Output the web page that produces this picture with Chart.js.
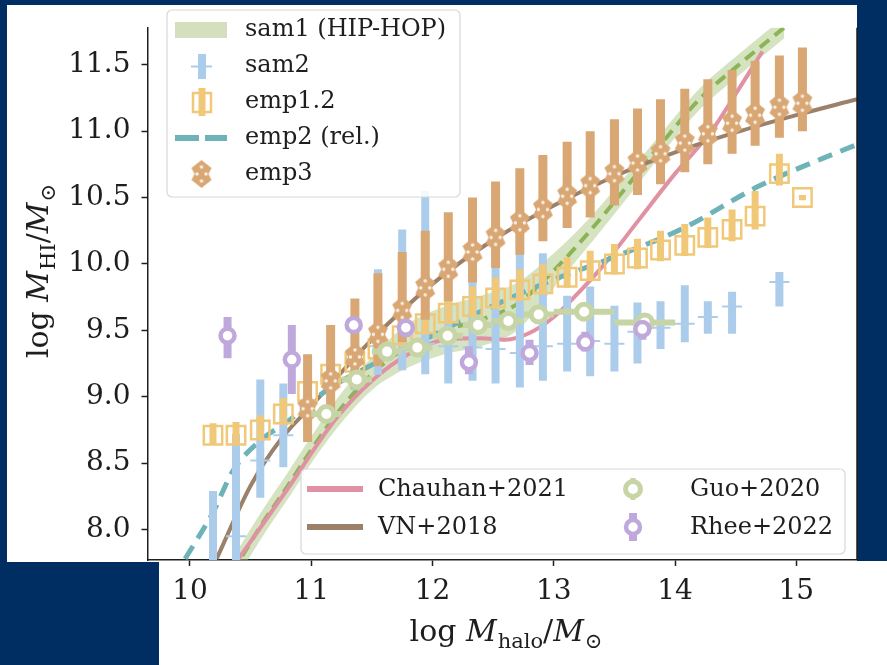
<!DOCTYPE html>
<html>
<head>
<meta charset="utf-8">
<script src="https://cdn.jsdelivr.net/npm/chart.js@4/dist/chart.umd.min.js"></script>
<style>
  html, body { margin: 0; padding: 0; background: #002d62; }
  canvas { display: block; }
</style>
</head>
<body>
<canvas id="chart" width="887" height="665"></canvas>
<script>
// ---- axes ----
const xTickVals = [10, 11, 12, 13, 14, 15];
const yTickVals = [8.0, 8.5, 9.0, 9.5, 10.0, 10.5, 11.0, 11.5];
const xRange = [9.65, 15.5];
const yRange = [7.771, 11.778];

// ---- sam1 (HIP-HOP): median + band ----
const sam1X   = [10.35, 10.6, 10.8, 11.0, 11.2, 11.5, 11.8, 12.1, 12.4, 12.7, 13.0, 13.3, 13.6, 13.9, 14.2, 14.5, 14.9];
const sam1Med = [7.68, 8.05, 8.32, 8.60, 8.86, 9.17, 9.38, 9.50, 9.58, 9.70, 9.95, 10.25, 10.58, 10.92, 11.24, 11.48, 11.78];
const sam1Lo  = [7.58, 7.95, 8.22, 8.50, 8.75, 9.05, 9.22, 9.32, 9.38, 9.50, 9.82, 10.15, 10.49, 10.84, 11.16, 11.40, 11.70];
const sam1Hi  = [7.78, 8.15, 8.42, 8.70, 8.97, 9.30, 9.55, 9.68, 9.76, 9.86, 10.08, 10.35, 10.67, 11.00, 11.32, 11.56, 11.86];

// ---- sam2 ----
const sam2X  = [10.19, 10.38, 10.58, 10.77, 10.97, 11.16, 11.36, 11.55, 11.75, 11.94, 12.13, 12.33, 12.52, 12.72, 12.91, 13.11, 13.30, 13.50, 13.69, 13.88, 14.08, 14.27, 14.47, 14.86];
const sam2Y  = [7.75, 7.95, 8.52, 8.71, 8.95, 9.12, 9.28, 9.38, 9.40, 9.40, 9.38, 9.37, 9.36, 9.33, 9.38, 9.40, 9.42, 9.40, 9.49, 9.52, 9.55, 9.60, 9.68, 9.865];
const sam2Hi = [8.29, 8.72, 9.13, 9.10, 9.25, 9.40, 9.55, 9.96, 10.26, 10.55, 9.80, 9.865, 9.97, 10.08, 10.08, 9.76, 9.83, 9.685, 9.71, 9.72, 9.84, 9.72, 9.79, 9.94];
const sam2Lo = [7.30, 7.40, 8.24, 8.47, 8.70, 8.90, 9.05, 9.165, 9.20, 9.17, 9.10, 9.12, 9.10, 9.07, 9.12, 9.19, 9.155, 9.19, 9.25, 9.36, 9.41, 9.475, 9.475, 9.68];

// ---- emp1.2 ----
const emp12X  = [10.19, 10.38, 10.58, 10.77, 10.97, 11.16, 11.36, 11.55, 11.75, 11.94, 12.13, 12.33, 12.52, 12.72, 12.91, 13.11, 13.30, 13.50, 13.69, 13.88, 14.08, 14.27, 14.47, 14.66, 14.86, 15.05];
const emp12Y  = [8.71, 8.71, 8.75, 8.87, 9.04, 9.17, 9.26, 9.36, 9.46, 9.55, 9.63, 9.68, 9.745, 9.805, 9.85, 9.90, 9.95, 10.00, 10.045, 10.105, 10.14, 10.20, 10.26, 10.36, 10.68, 10.50];
const emp12Hi = [8.80, 8.81, 8.86, 8.99, 9.16, 9.30, 9.40, 9.50, 9.61, 9.70, 9.78, 9.83, 9.90, 9.96, 10.00, 10.05, 10.10, 10.15, 10.19, 10.25, 10.30, 10.35, 10.41, 10.55, 10.83, 10.52];
const emp12Lo = [8.64, 8.64, 8.67, 8.79, 8.96, 9.09, 9.18, 9.28, 9.38, 9.47, 9.55, 9.60, 9.66, 9.72, 9.77, 9.82, 9.87, 9.92, 9.96, 10.02, 10.06, 10.12, 10.17, 10.26, 10.59, 10.48];

// ---- emp2 (rel.) ----
const emp2X = [9.96, 10.19, 10.36, 10.58, 10.80, 11.13, 11.50, 12.00, 12.30, 12.94, 13.52, 14.07, 14.70, 15.50];
const emp2Y = [7.78, 8.13, 8.45, 8.67, 8.81, 9.05, 9.24, 9.46, 9.60, 9.86, 10.06, 10.27, 10.59, 10.90];

// ---- emp3 ----
const emp3X  = [10.97, 11.16, 11.36, 11.55, 11.75, 11.94, 12.13, 12.33, 12.52, 12.72, 12.91, 13.11, 13.30, 13.50, 13.69, 13.88, 14.08, 14.27, 14.47, 14.66, 14.86, 15.05];
const emp3Y  = [8.91, 9.12, 9.30, 9.47, 9.65, 9.82, 9.96, 10.09, 10.20, 10.31, 10.41, 10.51, 10.59, 10.68, 10.76, 10.83, 10.91, 10.98, 11.06, 11.12, 11.18, 11.21];
const emp3Hi = [9.32, 9.54, 9.74, 9.93, 10.09, 10.25, 10.39, 10.50, 10.62, 10.72, 10.82, 10.92, 11.00, 11.09, 11.17, 11.24, 11.32, 11.39, 11.46, 11.53, 11.57, 11.63];
const emp3Lo = [8.66, 8.88, 9.06, 9.23, 9.41, 9.58, 9.72, 9.86, 9.97, 10.07, 10.17, 10.27, 10.35, 10.44, 10.52, 10.60, 10.69, 10.75, 10.83, 10.89, 10.95, 11.00];

// ---- Chauhan+2021 ----
const chauX = [10.40, 10.8, 11.2, 11.5, 11.8, 12.1, 12.4, 12.6, 12.8, 13.0, 13.2, 13.4, 13.7, 14.0, 14.3, 14.5, 14.72];
const chauY = [7.78, 8.30, 8.83, 9.12, 9.32, 9.43, 9.44, 9.43, 9.48, 9.60, 9.78, 9.98, 10.33, 10.68, 11.00, 11.28, 11.60];

// ---- VN+2018 ----
const vnX = [10.22, 10.5, 10.75, 11.0, 11.5, 12.0, 12.5, 13.0, 13.5, 14.0, 14.5, 15.0, 15.5];
const vnY = [7.78, 8.33, 8.68, 8.93, 9.43, 9.85, 10.18, 10.44, 10.66, 10.84, 10.99, 11.12, 11.24];

// ---- Guo+2020 ----
const guoX    = [11.125, 11.375, 11.625, 11.875, 12.125, 12.375, 12.625, 12.875, 13.25, 13.75];
const guoY    = [8.87, 9.13, 9.34, 9.37, 9.46, 9.54, 9.57, 9.62, 9.64, 9.56];
const guoXerr = [0.125, 0.125, 0.125, 0.125, 0.125, 0.125, 0.125, 0.125, 0.25, 0.25];
const guoYerr = [0.04, 0.04, 0.04, 0.04, 0.04, 0.04, 0.04, 0.04, 0.04, 0.04];

// ---- Rhee+2022 ----
const rheeX  = [10.31, 10.84, 11.35, 11.78, 12.30, 12.80, 13.26, 13.73];
const rheeY  = [9.46, 9.28, 9.54, 9.52, 9.26, 9.33, 9.41, 9.51];
const rheeLo = [9.29, 9.02, 9.50, 9.45, 9.17, 9.24, 9.34, 9.43];
const rheeHi = [9.60, 9.54, 9.58, 9.58, 9.38, 9.43, 9.49, 9.56];

// ---- texts ----
const legendTop = ['sam1 (HIP-HOP)', 'sam2', 'emp1.2', 'emp2 (rel.)', 'emp3'];
const legendBottom = ['Chauhan+2021', 'VN+2018', 'Guo+2020', 'Rhee+2022'];
const xTitle = [['log ', 'r'], ['M', 'i'], ['halo', 's'], ['/', 'r'], ['M', 'i'], ['\u2299', 's']];
const yTitle = [['log ', 'r'], ['M', 'i'], ['HI', 's'], ['/', 'r'], ['M', 'i'], ['\u2299', 's']];

// ---- colours ----
const NAVY = '#002d62';
const C = {
  band: 'rgba(172,200,130,0.5)', bandSolid: '#d4e0bd', sam1: '#8cb456',
  sam2: '#abcdeb', emp12: '#f0c878', emp2: '#6db3b8', emp3: '#d9a774',
  chau: '#e091a4', vn: '#9b8169', guo: '#c6d4a6', rhee: '#bfa9dc', ink: '#1e1e1e'
};

// helpers turning arrays into chart points
const pts = (xs, ys) => xs.map((x, i) => ({x, y: ys[i]}));
const vsegs = (xs, lo, hi) => xs.flatMap((x, i) => [{x, y: lo[i]}, {x, y: hi[i]}, {x, y: null}]);
const hsegs = (xs, ys, e) => xs.flatMap((x, i) => [{x: x - e[i], y: ys[i]}, {x: x + e[i], y: ys[i]}, {x: x + e[i], y: null}]);
const yerrLo = (ys, e) => ys.map((y, i) => y - e[i]);
const yerrHi = (ys, e) => ys.map((y, i) => y + e[i]);

function emp3Marker() {
  const c = document.createElement('canvas');
  c.width = 24; c.height = 28;
  const g = c.getContext('2d');
  g.fillStyle = C.emp3;
  g.beginPath();
  g.moveTo(12, 0); g.lineTo(22, 8); g.lineTo(19, 14); g.lineTo(22, 20);
  g.lineTo(12, 28); g.lineTo(2, 20); g.lineTo(5, 14); g.lineTo(2, 8);
  g.closePath(); g.fill();
  g.fillStyle = 'rgba(255,255,255,0.85)';
  [[12, 7], [7.5, 14], [16.5, 14], [12, 21]].forEach(([x, y]) => {
    g.beginPath(); g.arc(x, y, 1.7, 0, Math.PI * 2); g.fill();
  });
  return c;
}
const emp3Img = emp3Marker();

const curve = (label, xs, ys, color, width, dash, order) => ({
  label, data: pts(xs, ys), borderColor: color, backgroundColor: color, borderWidth: width,
  borderDash: dash, pointRadius: 0, cubicInterpolationMode: 'monotone', fill: false, order
});
const bars = (label, data, color, width, order) => ({
  label, data, borderColor: color, backgroundColor: color, borderWidth: width,
  borderCapStyle: 'butt', pointRadius: 0, spanGaps: false, fill: false, order
});
const marks = (label, xs, ys, style, r, fillC, edge, bw, order) => ({
  label, data: pts(xs, ys), showLine: false, pointStyle: style, pointRadius: r,
  pointBackgroundColor: fillC, pointBorderColor: edge, pointBorderWidth: bw,
  backgroundColor: fillC, borderColor: edge, order
});

const datasets = [
  { label: 'sam1 hi', data: pts(sam1X, sam1Hi), borderWidth: 0, borderColor: 'rgba(0,0,0,0)', pointRadius: 0,
    fill: '+1', backgroundColor: C.band, cubicInterpolationMode: 'monotone', order: 100 },
  { label: 'sam1 lo', data: pts(sam1X, sam1Lo), borderWidth: 0, borderColor: 'rgba(0,0,0,0)', pointRadius: 0,
    fill: false, backgroundColor: C.band, cubicInterpolationMode: 'monotone', order: 99 },
  curve(legendTop[0], sam1X, sam1Med, C.sam1, 4, [12, 7], 90),
  curve(legendBottom[0], chauX, chauY, C.chau, 4, [], 85),
  curve(legendBottom[1], vnX, vnY, C.vn, 4, [], 84),
  curve(legendTop[3], emp2X, emp2Y, C.emp2, 5, [15, 9], 83),
  bars('sam2 err', vsegs(sam2X, sam2Lo, sam2Hi), C.sam2, 8, 70),
  marks(legendTop[1], sam2X, sam2Y, 'line', 10, C.sam2, C.sam2, 2, 69),
  bars('emp1.2 err', vsegs(emp12X, emp12Lo, emp12Hi), C.emp12, 7, 60),
  marks(legendTop[2], emp12X, emp12Y, 'rect', 13, 'rgba(0,0,0,0)', C.emp12, 2.5, 59),
  bars('emp3 err', vsegs(emp3X, emp3Lo, emp3Hi), C.emp3, 9, 50),
  marks(legendTop[4], emp3X, emp3Y, emp3Img, 10, C.emp3, C.emp3, 0, 49),
  bars('guo xerr', hsegs(guoX, guoY, guoXerr), C.guo, 6, 40),
  bars('guo yerr', vsegs(guoX, yerrLo(guoY, guoYerr), yerrHi(guoY, guoYerr)), C.guo, 5, 39),
  marks(legendBottom[2], guoX, guoY, 'circle', 7.5, '#ffffff', C.guo, 5, 38),
  bars('rhee err', vsegs(rheeX, rheeLo, rheeHi), C.rhee, 8, 30),
  marks(legendBottom[3], rheeX, rheeY, 'circle', 7, '#ffffff', C.rhee, 4.5, 29)
];

function roundBox(ctx, x, y, w, h, r) {
  ctx.beginPath();
  ctx.moveTo(x + r, y);
  ctx.arcTo(x + w, y, x + w, y + h, r);
  ctx.arcTo(x + w, y + h, x, y + h, r);
  ctx.arcTo(x, y + h, x, y, r);
  ctx.arcTo(x, y, x + w, y, r);
  ctx.closePath();
  ctx.fillStyle = 'rgba(255,255,255,0.85)';
  ctx.fill();
  ctx.strokeStyle = '#d8d8d8';
  ctx.lineWidth = 1.2;
  ctx.stroke();
}

function ring(ctx, x, y, color, r, bw, stub, stubW) {
  ctx.strokeStyle = color;
  ctx.lineWidth = stubW;
  ctx.beginPath(); ctx.moveTo(x, y - stub); ctx.lineTo(x, y + stub); ctx.stroke();
  ctx.beginPath(); ctx.arc(x, y, r, 0, Math.PI * 2);
  ctx.fillStyle = '#fff'; ctx.fill();
  ctx.lineWidth = bw; ctx.stroke();
}

function drawMath(ctx, parts, cx, base, size) {
  const fontOf = p => (p[1] === 'i' ? 'italic ' : '') + (p[1] === 's' ? Math.round(size * 0.7) : size) + 'px "DejaVu Serif"';
  let w = 0;
  parts.forEach(p => { ctx.font = fontOf(p); w += ctx.measureText(p[0]).width; });
  let x = cx - w / 2;
  ctx.textAlign = 'left';
  ctx.textBaseline = 'alphabetic';
  parts.forEach(p => {
    ctx.font = fontOf(p);
    ctx.fillText(p[0], x, base + (p[1] === 's' ? size * 0.22 : 0));
    x += ctx.measureText(p[0]).width + (p[1] === 'i' ? 1 : 0);
  });
}

const decor = {
  id: 'decor',
  beforeDraw(chart) {
    const ctx = chart.ctx;
    ctx.save();
    ctx.fillStyle = NAVY;
    ctx.fillRect(0, 0, chart.width, chart.height);
    ctx.fillStyle = '#ffffff';
    ctx.fillRect(7, 5, 850, 557);
    ctx.fillRect(159, 561, 728, 104);
    ctx.restore();
  },
  afterDraw(chart) {
    const ctx = chart.ctx;
    const a = chart.chartArea;
    ctx.save();
    // right spine
    ctx.strokeStyle = C.ink; ctx.lineWidth = 1.5;
    ctx.beginPath(); ctx.moveTo(a.right, a.top); ctx.lineTo(a.right, a.bottom); ctx.stroke();

    // upper-left legend
    roundBox(ctx, 167, 10, 293, 187, 5);
    const rows = [30, 66, 102, 138, 174];
    ctx.fillStyle = C.bandSolid; ctx.fillRect(175, 22, 52, 16);
    ctx.fillStyle = C.sam2; ctx.fillRect(198, 54, 8, 25);
    ctx.strokeStyle = C.sam2; ctx.lineWidth = 2;
    ctx.beginPath(); ctx.moveTo(191, 66.5); ctx.lineTo(212, 66.5); ctx.stroke();
    ctx.fillStyle = C.emp12; ctx.fillRect(198.5, 88, 7, 28);
    ctx.strokeStyle = C.emp12; ctx.lineWidth = 2.5; ctx.strokeRect(193, 93, 18, 19);
    ctx.strokeStyle = C.emp2; ctx.lineWidth = 6;
    ctx.beginPath(); ctx.moveTo(175, 138); ctx.lineTo(199, 138); ctx.moveTo(205, 138); ctx.lineTo(227, 138); ctx.stroke();
    ctx.drawImage(emp3Img, 201.5 - 12, 174 - 14);
    ctx.fillStyle = C.ink; ctx.font = '24px "DejaVu Serif"';
    ctx.textAlign = 'left'; ctx.textBaseline = 'middle';
    legendTop.forEach((t, i) => ctx.fillText(t, 245, rows[i]));

    // lower-right legend
    roundBox(ctx, 301, 469, 544, 85, 5);
    ctx.lineWidth = 6;
    ctx.strokeStyle = C.chau; ctx.beginPath(); ctx.moveTo(307, 489); ctx.lineTo(363, 489); ctx.stroke();
    ctx.strokeStyle = C.vn; ctx.beginPath(); ctx.moveTo(307, 527); ctx.lineTo(363, 527); ctx.stroke();
    ring(ctx, 633, 489, C.guo, 7.5, 5, 11, 5);
    ring(ctx, 633, 527, C.rhee, 7, 4.5, 14, 8);
    ctx.fillStyle = C.ink; ctx.font = '24px "DejaVu Serif"';
    ctx.textAlign = 'left'; ctx.textBaseline = 'middle';
    ctx.fillText(legendBottom[0], 378, 490);
    ctx.fillText(legendBottom[1], 378, 528);
    ctx.fillText(legendBottom[2], 690, 490);
    ctx.fillText(legendBottom[3], 690, 528);

    // axis titles
    ctx.fillStyle = C.ink;
    drawMath(ctx, xTitle, 505, 641, 30);
    ctx.translate(48, 272);
    ctx.rotate(-Math.PI / 2);
    drawMath(ctx, yTitle, 0, 0, 30);
    ctx.restore();
  }
};

new Chart(document.getElementById('chart'), {
  type: 'line',
  data: { datasets },
  options: {
    responsive: false,
    devicePixelRatio: 1,
    animation: false,
    events: [],
    layout: { padding: { top: 5, right: 30, bottom: 0, left: 0 } },
    plugins: { legend: { display: false }, tooltip: { enabled: false } },
    scales: {
      x: {
        type: 'linear', min: xRange[0], max: xRange[1],
        afterBuildTicks: s => { s.ticks = xTickVals.map(v => ({ value: v })); },
        afterFit: s => { s.height = 105; },
        ticks: { font: { family: 'DejaVu Serif', size: 28 }, color: C.ink, padding: 9, maxRotation: 0,
                 callback: v => String(v) },
        grid: { drawOnChartArea: false, drawTicks: true, tickLength: 6, tickColor: C.ink, tickWidth: 1.5 },
        border: { display: true, color: C.ink, width: 1.5 }
      },
      y: {
        type: 'linear', min: yRange[0], max: yRange[1],
        afterBuildTicks: s => { s.ticks = yTickVals.map(v => ({ value: v })); },
        afterFit: s => { s.width = 147.5; },
        ticks: { font: { family: 'DejaVu Serif', size: 28 }, color: C.ink, padding: 11,
                 callback: v => Number(v).toFixed(1) },
        grid: { drawOnChartArea: false, drawTicks: true, tickLength: 6, tickColor: C.ink, tickWidth: 1.5 },
        border: { display: true, color: C.ink, width: 1.5 }
      }
    }
  },
  plugins: [decor]
});
</script>
</body>
</html>
